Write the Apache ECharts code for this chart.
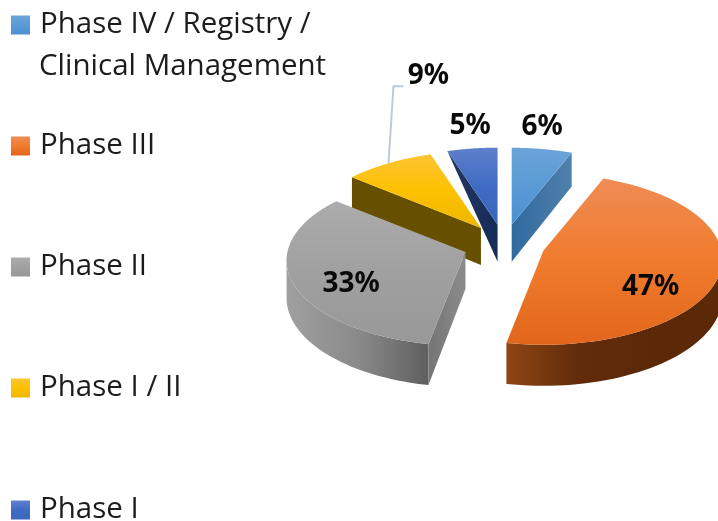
<!DOCTYPE html>
<html>
<head>
<meta charset="utf-8">
<style>html,body{margin:0;padding:0;background:#fff}#c{width:718px;height:521px}</style>
<script src="https://cdn.jsdelivr.net/npm/echarts@6/dist/echarts.min.js"></script>
</head>
<body>
<div id="c"></div>
<script>
const categories = ['Phase IV / Registry /\nClinical Management', 'Phase III', 'Phase II', 'Phase I / II', 'Phase I'];
const values = [6, 47, 33, 9, 5];
const valueLabels = ['6%', '47%', '33%', '9%', '5%'];

const G = (x2, y2, stops) => new echarts.graphic.LinearGradient(0, 0, x2, y2,
  stops.map((c, i) => ({offset: i / (stops.length - 1), color: c})));
const looks = [
  {top: ['#6ca4d9', '#5a9bd6', '#4a90d0'], cut: G(1, 0, ['#2f6a9f', '#5080ac']), rim: '#4d80ad', rimDepth: 1, z: 1,
   label: {r: 1, dx: 0, dy: -22}},
  {top: ['#ee8c55', '#f07b2c', '#e2661b'], cut: '#5e2a0a', rim: G(1, 0, ['#8f4513', '#622c0b', '#5b2908', '#5b2908']), rimDepth: 1, z: 5,
   label: {r: 0.61, dx: 0, dy: 21}},
  {top: ['#acacac', '#a0a0a0', '#989898'], cut: G(1, 0, ['#747474', '#8c8c8c']), rim: G(1, 0, ['#a0a0a0', '#8a8a8a', '#5f5f5f']), rimDepth: 1, z: 4,
   label: {r: 0.66, dx: 0, dy: 12}},
  {top: ['#fdc433', '#fdc100', '#eeb600'], cut: '#665000', rim: '#665000', rimDepth: 1, z: 3,
   label: {r: 1, dx: 40, dy: -87}, leader: true},
  {top: ['#5f80cc', '#3f6bc4', '#3a67bd'], cut: G(1, 0, ['#27365f', '#132c58']), rim: '#1f3060', rimDepth: 0, z: 2,
   label: {r: 1, dx: -2, dy: -22}}
];

const pie = {cx: 504, cy: 245, R: 178, k: 0.476, p: 0.099, explode: 41, depth: 37};
const total = values.reduce((a, b) => a + b, 0);
const rad = d => d * Math.PI / 180;

function project(tip, angle, frac) {
  const Y = Math.cos(rad(angle)) * frac, X = Math.sin(rad(angle)) * frac;
  const s = 1 / (1 + pie.p * Y);
  return {x: tip.x + X * pie.R * s, y: tip.y - Y * pie.k * pie.R * s, s};
}

function sliceRenderer(i) {
  const before = values.slice(0, i).reduce((a, b) => a + b, 0);
  return function (params, api) {
    const v = api.value(0);
    const a0 = before / total * 360, a1 = (before + v) / total * 360, mid = (a0 + a1) / 2;
    const look = looks[i];
    const tip = {
      x: pie.cx + pie.explode * Math.sin(rad(mid)),
      y: pie.cy - pie.explode * pie.k * 1.05 * Math.cos(rad(mid))
    };
    const rimAt = a => project(tip, a, 1);
    const m = rimAt(mid);
    const children = [];
    const poly = (pts, fill) => children.push({type: 'polygon', shape: {points: pts}, style: {fill: fill}});

    // outer rim wall, only where it faces the viewer
    const pts = [];
    const steps = 80;
    for (let j = 0; j <= steps; j++) pts.push(rimAt(a0 + j * (a1 - a0) / steps));
    const vis = pts.filter((p, j) => {
      const facing = q => q > 0 && q <= steps && pts[q].x < pts[q - 1].x && Math.cos(rad(a0 + q * (a1 - a0) / steps)) < 0.2;
      return facing(j) || facing(j + 1);
    });
    if (vis.length > 1) {
      poly(vis.map(p => [p.x, p.y]).concat(vis.slice().reverse().map(p => [p.x, p.y + pie.depth * p.s])), look.rim);
    }

    // cut faces that turn toward the viewer
    [a0, a1].forEach(a => {
      const r = rimAt(a);
      const vx = r.x - tip.x, vy = r.y - tip.y;
      const down = vx;
      const side = vx * (m.y - tip.y) - vy * (m.x - tip.x);
      if (Math.abs(down) > 1 && down * side < 0) {
        poly([[tip.x, tip.y], [r.x, r.y], [r.x, r.y + pie.depth * r.s * look.rimDepth], [tip.x, tip.y + pie.depth]], look.cut);
      }
    });

    // top face
    const top = [[tip.x, tip.y]].concat(pts.map(p => [p.x, p.y]));
    poly(top, G(0, 1, look.top));

    // data label
    const lx = tip.x + (m.x - tip.x) * look.label.r + look.label.dx;
    const ly = tip.y + (m.y - tip.y) * look.label.r + look.label.dy;
    if (look.leader) {
      children.push({type: 'polyline', shape: {points: [[m.x, m.y], [m.x + 5, ly + 10], [m.x + 15, ly + 10]]},
        style: {stroke: '#bccbdb', lineWidth: 2, fill: null}});
    }
    children.push({type: 'text', style: {text: valueLabels[i], x: lx, y: ly, align: 'center', verticalAlign: 'middle',
      fontFamily: 'Noto Sans', fontWeight: 'bold', fontSize: 28, fill: '#0a0a0a'}});
    return {type: 'group', children};
  };
}

const legendFont = 'Open Sans', legendSize = 29.5;
const legendTops = [10, 131, 252, 373, 495];
const chart = echarts.init(document.getElementById('c'), null, {renderer: 'canvas'});
chart.setOption({
  animation: false,
  backgroundColor: '#ffffff',
  legend: categories.map((c, i) => ({
    data: [c], left: 11, top: legendTops[i], orient: 'vertical', padding: 0,
    itemWidth: 19, itemHeight: 19, selectedMode: false,
    icon: 'rect',
    formatter: n => n.split('\n')[0],
    textStyle: {fontFamily: legendFont, fontSize: legendSize, color: '#1c1c1c', padding: [0, 0, 0, 5]}
  })),
  graphic: [{
    type: 'text', left: 39, top: 52,
    style: {text: categories[0].split('\n')[1], fontFamily: legendFont, fontSize: legendSize, fill: '#1c1c1c'}
  }],
  series: categories.map((c, i) => ({
    type: 'custom',
    name: c,
    coordinateSystem: 'none',
    z: looks[i].z,
    itemStyle: {color: G(0, 1, looks[i].top)},
    renderItem: sliceRenderer(i),
    data: [[values[i]]],
    silent: true
  }))
});
</script>
</body>
</html>
